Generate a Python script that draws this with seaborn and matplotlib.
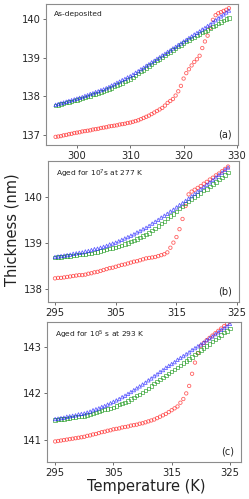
import matplotlib
matplotlib.use("Agg")
import matplotlib.pyplot as plt
import seaborn as sns

# ── Data ──────────────────────────────────────────────────────────────
T_A = [296.0, 296.5, 297.0, 297.5, 298.0, 298.5, 299.0, 299.5, 300.0, 300.5,
       301.0, 301.5, 302.0, 302.5, 303.0, 303.5, 304.0, 304.5, 305.0, 305.5,
       306.0, 306.5, 307.0, 307.5, 308.0, 308.5, 309.0, 309.5, 310.0, 310.5,
       311.0, 311.5, 312.0, 312.5, 313.0, 313.5, 314.0, 314.5, 315.0, 315.5,
       316.0, 316.5, 317.0, 317.5, 318.0, 318.5, 319.0, 319.5, 320.0, 320.5,
       321.0, 321.5, 322.0, 322.5, 323.0, 323.5, 324.0, 324.5, 325.0, 325.5,
       326.0, 326.5, 327.0, 327.5, 328.0, 328.5]
RED_A = [136.95, 136.96, 136.97, 136.99, 137.00, 137.02, 137.03, 137.05, 137.06, 137.07,
         137.09, 137.10, 137.11, 137.12, 137.14, 137.15, 137.16, 137.18, 137.19, 137.20,
         137.22, 137.23, 137.24, 137.25, 137.27, 137.28, 137.29, 137.31, 137.32, 137.34,
         137.36, 137.38, 137.41, 137.44, 137.47, 137.50, 137.54, 137.58, 137.62, 137.66,
         137.70, 137.76, 137.83, 137.88, 137.93, 138.02, 138.13, 138.27, 138.46, 138.60,
         138.70, 138.80, 138.89, 138.96, 139.05, 139.25, 139.42, 139.57, 139.77, 139.98,
         140.10, 140.15, 140.18, 140.21, 140.24, 140.28]
GREEN_A = [137.77, 137.78, 137.80, 137.82, 137.84, 137.85, 137.87, 137.89, 137.91, 137.93,
           137.95, 137.97, 137.99, 138.01, 138.04, 138.06, 138.08, 138.11, 138.13, 138.16,
           138.19, 138.22, 138.25, 138.29, 138.32, 138.35, 138.38, 138.42, 138.45, 138.49,
           138.54, 138.59, 138.64, 138.68, 138.73, 138.78, 138.83, 138.87, 138.92, 138.97,
           139.01, 139.06, 139.11, 139.15, 139.20, 139.24, 139.29, 139.33, 139.38, 139.42,
           139.46, 139.50, 139.53, 139.57, 139.61, 139.65, 139.68, 139.72, 139.76, 139.80,
           139.84, 139.88, 139.92, 139.96, 140.00, 140.03]
BLUE_A = [137.78, 137.80, 137.82, 137.84, 137.86, 137.88, 137.90, 137.92, 137.94, 137.96,
          137.98, 138.01, 138.03, 138.06, 138.08, 138.11, 138.13, 138.16, 138.18, 138.21,
          138.24, 138.28, 138.31, 138.35, 138.38, 138.42, 138.45, 138.49, 138.52, 138.56,
          138.61, 138.65, 138.70, 138.74, 138.79, 138.83, 138.88, 138.92, 138.97, 139.01,
          139.06, 139.10, 139.15, 139.19, 139.24, 139.28, 139.33, 139.37, 139.42, 139.46,
          139.51, 139.55, 139.60, 139.64, 139.68, 139.73, 139.77, 139.82, 139.86, 139.92,
          139.97, 140.02, 140.07, 140.12, 140.17, 140.22]

T_B = [295.0, 295.5, 296.0, 296.5, 297.0, 297.5, 298.0, 298.5, 299.0, 299.5,
       300.0, 300.5, 301.0, 301.5, 302.0, 302.5, 303.0, 303.5, 304.0, 304.5,
       305.0, 305.5, 306.0, 306.5, 307.0, 307.5, 308.0, 308.5, 309.0, 309.5,
       310.0, 310.5, 311.0, 311.5, 312.0, 312.5, 313.0, 313.5, 314.0, 314.5,
       315.0, 315.5, 316.0, 316.5, 317.0, 317.5, 318.0, 318.5, 319.0, 319.5,
       320.0, 320.5, 321.0, 321.5, 322.0, 322.5, 323.0, 323.5]
RED_B = [138.24, 138.25, 138.25, 138.26, 138.27, 138.28, 138.29, 138.30, 138.31, 138.31,
         138.32, 138.34, 138.35, 138.37, 138.38, 138.40, 138.42, 138.44, 138.46, 138.47,
         138.49, 138.51, 138.53, 138.54, 138.56, 138.58, 138.60, 138.61, 138.63, 138.65,
         138.67, 138.68, 138.69, 138.70, 138.72, 138.74, 138.76, 138.80, 138.90, 139.01,
         139.13, 139.30, 139.52, 139.80, 140.05, 140.11, 140.15, 140.19, 140.23, 140.28,
         140.32, 140.37, 140.41, 140.46, 140.50, 140.55, 140.60, 140.65]
GREEN_B = [138.69, 138.70, 138.70, 138.71, 138.72, 138.72, 138.73, 138.74, 138.75, 138.75,
           138.76, 138.77, 138.78, 138.80, 138.81, 138.83, 138.84, 138.86, 138.88, 138.89,
           138.91, 138.93, 138.95, 138.98, 139.00, 139.03, 139.06, 139.09, 139.12, 139.15,
           139.18, 139.22, 139.27, 139.32, 139.37, 139.42, 139.47, 139.53, 139.58, 139.63,
           139.68, 139.74, 139.79, 139.85, 139.90, 139.95, 139.99, 140.04, 140.08, 140.13,
           140.17, 140.22, 140.27, 140.32, 140.37, 140.42, 140.47, 140.52]
BLUE_B = [138.70, 138.71, 138.72, 138.73, 138.74, 138.75, 138.77, 138.78, 138.79, 138.80,
          138.82, 138.83, 138.85, 138.87, 138.88, 138.90, 138.92, 138.94, 138.97, 138.99,
          139.01, 139.04, 139.07, 139.10, 139.13, 139.16, 139.19, 139.23, 139.26, 139.30,
          139.33, 139.37, 139.42, 139.46, 139.50, 139.55, 139.59, 139.63, 139.68, 139.72,
          139.77, 139.82, 139.86, 139.91, 139.96, 140.01, 140.06, 140.11, 140.16, 140.21,
          140.26, 140.31, 140.36, 140.42, 140.47, 140.52, 140.58, 140.63]

T_C = [295.0, 295.5, 296.0, 296.5, 297.0, 297.5, 298.0, 298.5, 299.0, 299.5,
       300.0, 300.5, 301.0, 301.5, 302.0, 302.5, 303.0, 303.5, 304.0, 304.5,
       305.0, 305.5, 306.0, 306.5, 307.0, 307.5, 308.0, 308.5, 309.0, 309.5,
       310.0, 310.5, 311.0, 311.5, 312.0, 312.5, 313.0, 313.5, 314.0, 314.5,
       315.0, 315.5, 316.0, 316.5, 317.0, 317.5, 318.0, 318.5, 319.0, 319.5,
       320.0, 320.5, 321.0, 321.5, 322.0, 322.5, 323.0, 323.5, 324.0, 324.5,
       325.0]
RED_C = [140.97, 140.98, 140.99, 141.00, 141.01, 141.02, 141.03, 141.04, 141.05, 141.06,
         141.07, 141.09, 141.10, 141.12, 141.13, 141.15, 141.17, 141.18, 141.20, 141.21,
         141.23, 141.24, 141.25, 141.27, 141.28, 141.29, 141.31, 141.32, 141.33, 141.35,
         141.36, 141.38, 141.40, 141.42, 141.44, 141.47, 141.50, 141.53, 141.56, 141.60,
         141.64, 141.68, 141.72, 141.80, 141.88, 142.00, 142.16, 142.42, 142.66, 142.86,
         143.02, 143.08, 143.14, 143.19, 143.24, 143.29, 143.34, 143.39, 143.44, 143.49,
         143.54]
GREEN_C = [141.43, 141.44, 141.45, 141.45, 141.46, 141.47, 141.48, 141.49, 141.50, 141.51,
           141.52, 141.54, 141.55, 141.57, 141.59, 141.61, 141.63, 141.65, 141.67, 141.68,
           141.70, 141.73, 141.76, 141.78, 141.81, 141.84, 141.88, 141.91, 141.95, 141.98,
           142.02, 142.06, 142.11, 142.16, 142.21, 142.26, 142.30, 142.34, 142.38, 142.43,
           142.47, 142.51, 142.56, 142.60, 142.65, 142.69, 142.74, 142.78, 142.83, 142.88,
           142.93, 142.97, 143.02, 143.06, 143.11, 143.16, 143.20, 143.25, 143.30, 143.34,
           143.39]
BLUE_C = [141.45, 141.46, 141.47, 141.48, 141.50, 141.51, 141.52, 141.53, 141.55, 141.56,
          141.57, 141.59, 141.61, 141.64, 141.66, 141.68, 141.71, 141.73, 141.76, 141.79,
          141.82, 141.85, 141.88, 141.92, 141.95, 141.99, 142.03, 142.07, 142.11, 142.15,
          142.19, 142.23, 142.28, 142.32, 142.37, 142.41, 142.46, 142.50, 142.55, 142.59,
          142.63, 142.67, 142.72, 142.76, 142.80, 142.84, 142.88, 142.93, 142.97, 143.01,
          143.05, 143.09, 143.14, 143.18, 143.22, 143.27, 143.31, 143.36, 143.40, 143.44,
          143.49]

PANEL_LABELS = ["(a)", "(b)", "(c)"]
PANEL_TITLES = ["As-deposited", r"Aged for 10$^7$s at 277 K", r"Aged for 10$^5$ s at 293 K"]
XTICKS = [[300, 310, 320, 330], [295, 305, 315, 325], [295, 305, 315, 325]]
YTICKS = [[137, 138, 139, 140], [138, 139, 140], [141, 142, 143]]

# ── Style ─────────────────────────────────────────────────────────────
sns.set_theme(style="ticks")
plt.rcParams["font.family"] = ["DejaVu Sans"]
SPINE = "#8c8c8c"
RED, GREEN, BLUE = "#ff2020", "#1f9a1f", "#2020ff"

W, H = 249, 499
fig = plt.figure(figsize=(W / 100, H / 100), dpi=100)

# axes boxes in pixels: left, top, right, bottom
boxes = [(46, 4, 238, 145), (48, 161, 239, 302), (47, 322, 241, 462)]
xlims = [(294.2, 330.2), (293.85, 325.3), (293.6, 326.9)]
ylims = [(136.74, 140.39), (137.73, 140.77), (140.53, 143.53)]

panels = [
    (T_A, RED_A, GREEN_A, BLUE_A),
    (T_B, RED_B, GREEN_B, BLUE_B),
    (T_C, RED_C, GREEN_C, BLUE_C),
]

for i, (t, r, g, b) in enumerate(panels):
    l, tp, rt, bt = boxes[i]
    ax = fig.add_axes([l / W, 1 - bt / H, (rt - l) / W, (bt - tp) / H])
    common = dict(s=6, facecolor="none", linewidth=0.6, alpha=0.7, ax=ax, legend=False)
    sns.scatterplot(x=t, y=r, marker="o", edgecolor=RED, **common)
    sns.scatterplot(x=t, y=g, marker="s", edgecolor=GREEN, **common)
    sns.scatterplot(x=t, y=b, marker="^", edgecolor=BLUE, **common)

    ax.set_xlim(*xlims[i])
    ax.set_ylim(*ylims[i])
    ax.set_xticks(XTICKS[i])
    ax.set_yticks(YTICKS[i])
    ax.tick_params(axis="both", labelsize=7.2, length=2.5, width=0.6,
                   color="#555555", pad=1.5)
    for sp in ax.spines.values():
        sp.set_color(SPINE)
        sp.set_linewidth(0.8)
    ax.set_xlabel("")
    ax.set_ylabel("")

    ax.text(0.04, 0.95, PANEL_TITLES[i], transform=ax.transAxes,
            fontsize=5.4, ha="left", va="top", color="#222222")
    ax.text(0.965, 0.04, PANEL_LABELS[i], transform=ax.transAxes,
            fontsize=7, ha="right", va="bottom", color="#222222")

fig.text(12 / W, 1 - 230 / H, "Thickness (nm)", rotation=90,
         ha="center", va="center", fontsize=10.5, color="#222222")
fig.text(146 / W, 1 - 486 / H, "Temperature (K)",
         ha="center", va="center", fontsize=10.5, color="#222222")

fig.savefig("out.png", dpi=100)
